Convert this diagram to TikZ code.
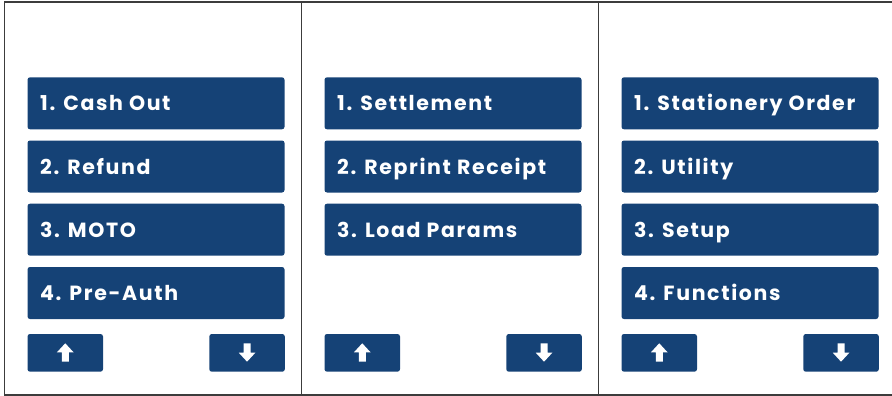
\documentclass[tikz,border=0pt]{standalone}
\usepackage{fontspec}
\setmainfont{Poppins}[LetterSpace=8]
\definecolor{menublue}{RGB}{21,66,118}
\definecolor{framegrey}{RGB}{60,60,60}
\begin{document}
\begin{tikzpicture}[x=1pt,y=-1pt,
  menubox/.style={fill=menublue,rounded corners=2.5pt},
  menutext/.style={anchor=base west,text=white,inner sep=0pt,font=\fontsize{20.5}{20.5}\selectfont\bfseries},
  arrowbtn/.style={fill=menublue,rounded corners=2.5pt},
  framepen/.style={draw=framegrey,line width=1.3pt}]
\useasboundingbox (0,0) rectangle (892,396);
% frame
\draw[framepen] (895,2) -- (4.5,2) -- (4.5,395) -- (895,395);
\draw[framepen] (301.7,2) -- (301.7,395);
\draw[framepen] (598.3,2) -- (598.3,395);
% menu items
\foreach \px/\pn in {27.5/a,324.5/b,621.5/c}{
  \foreach \ty/\tn in {77.3/1,140.5/2,203.7/3,267/4}{
    \coordinate (\pn\tn) at (\px,\ty);
  }
}
\newcommand{\menuitem}[3]{%
  \fill[menubox] (#1) rectangle ++(257,52);
  \node[menutext] (#2) at ([shift={(12.5,33.5)}]#1) {#3};}
\menuitem{a1}{ta1}{1. Cash Out}
\menuitem{a2}{ta2}{2. Refund}
\menuitem{a3}{ta3}{3. MOTO}
\menuitem{a4}{ta4}{4. Pre-Auth}
\menuitem{b1}{tb1}{1. Settlement}
\menuitem{b2}{tb2}{2. Reprint Receipt}
\menuitem{b3}{tb3}{3. Load Params}
\menuitem{c1}{tc1}{1. Stationery Order}
\menuitem{c2}{tc2}{2. Utility}
\menuitem{c3}{tc3}{3. Setup}
\menuitem{c4}{tc4}{4. Functions}
% arrow buttons
\foreach \px in {27.5,324.5,621.5}{
  \fill[arrowbtn] (\px,334) rectangle ++(75.5,37.7);
  \fill[white] (\px+37.75-3.5,361.7) -- (\px+37.75-3.5,352.3) -- (\px+37.75-8.3,352.3)
     -- (\px+37.75,343.3) -- (\px+37.75+8.3,352.3) -- (\px+37.75+3.5,352.3) -- (\px+37.75+3.5,361.7) -- cycle;
  \fill[arrowbtn] (\px+181.8,334) rectangle ++(75.5,37.7);
  \fill[white] (\px+219.55-3.5,343.3) -- (\px+219.55-3.5,352.7) -- (\px+219.55-8.3,352.7)
     -- (\px+219.55,361.7) -- (\px+219.55+8.3,352.7) -- (\px+219.55+3.5,352.7) -- (\px+219.55+3.5,343.3) -- cycle;
}
\end{tikzpicture}
\end{document}
